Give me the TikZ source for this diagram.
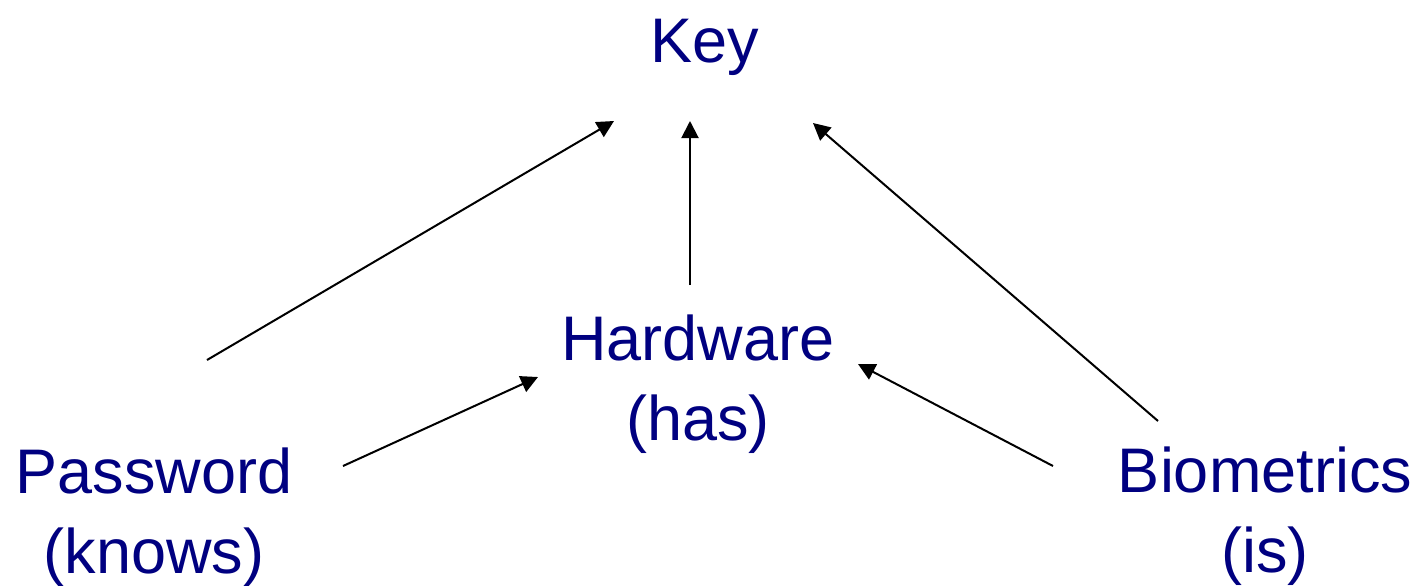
\documentclass[tikz,border=0pt]{standalone}
\usepackage{fontspec}
\setmainfont{Liberation Sans}
\usetikzlibrary{arrows.meta}
\definecolor{navy}{RGB}{0,0,128}
\begin{document}
\begin{tikzpicture}[x=0.5pt,y=-0.5pt,
  lbl/.style={inner sep=0pt,outer sep=0pt,text=navy,align=center,anchor=base,
    font=\fontsize{31.5}{40}\selectfont},
  conn/.style={line width=1pt,-{Triangle[length=8.5pt,width=8.5pt]}}]
\useasboundingbox (0,0) rectangle (1419,585);
\node[lbl] (key) at (705,62) {Key};
\node[lbl] (hw) at (698,440) {Hardware\\(has)};
\node[lbl] (pw) at (154,573) {Password\\(knows)};
\node[lbl] (bio) at (1265,572) {Biometrics\\(is)};
\coordinate (pwA) at (207,360);
\coordinate (keyA) at (614,121);
\coordinate (hwA) at (690,285);
\coordinate (keyB) at (690,121);
\coordinate (bioA) at (1158,421);
\coordinate (keyC) at (813,123);
\coordinate (pwB) at (343,466);
\coordinate (hwB) at (538,377);
\coordinate (bioB) at (1053,466);
\coordinate (hwC) at (858,364);
\draw[conn] (pwA) -- (keyA);
\draw[conn] (hwA) -- (keyB);
\draw[conn] (bioA) -- (keyC);
\draw[conn] (pwB) -- (hwB);
\draw[conn] (bioB) -- (hwC);
\end{tikzpicture}
\end{document}
